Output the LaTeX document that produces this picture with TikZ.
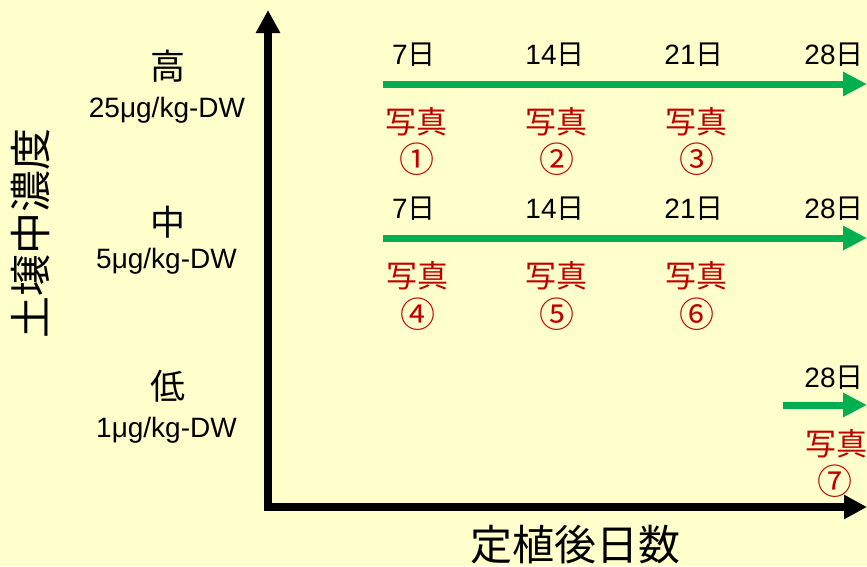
\documentclass[tikz,border=0pt]{standalone}
\usepackage{fontspec}
\setmainfont{Liberation Sans}
\newfontfamily\jp{Noto Sans CJK JP}
\usetikzlibrary{arrows.meta}
\definecolor{bg}{HTML}{FFFFCC}
\definecolor{grn}{HTML}{00B050}
\definecolor{rd}{HTML}{C00000}
\tikzset{
  axisline/.style={line width=8pt, line join=miter, {Triangle[length=23pt,width=23pt]}-{Triangle[length=23pt,width=23pt]}},
  garrow/.style={grn, line width=7pt, -{Triangle[length=24pt,width=23pt]}},
  daylbl/.style={inner sep=0pt, font=\fontsize{28}{30}\selectfont},
  photo/.style={inner sep=0pt, text=rd, font=\jp\fontsize{31}{33}\selectfont},
  circnum/.style={inner sep=0pt, text=rd, font=\jp\fontsize{35}{37}\selectfont},
  conc/.style={inner sep=0pt, font=\jp\fontsize{35}{37}\selectfont},
  unit/.style={inner sep=0pt, anchor=base, font=\fontsize{28}{30}\selectfont},
  axlbl/.style={inner sep=0pt, font=\jp\fontsize{42}{44}\selectfont}
}
\begin{document}
\begin{tikzpicture}[x=1pt,y=-1pt]
\fill[bg] (0,0) rectangle (867,566);
\useasboundingbox (0,0) rectangle (867,566);
% axes
\coordinate (O) at (268,507);
\coordinate (Ytop) at (268,10);
\coordinate (Xend) at (867,507);
\draw[axisline] (Ytop) -- (O) -- (Xend);
\node[axlbl, rotate=90] (ylab) at (31,233) {土壌中濃度};
\node[axlbl] (xlab) at (575,545) {定植後日数};
% concentration labels
\node[conc] (hi) at (167.5,66) {高};
\node[unit] (hiu) at (167,117) {25μg/kg-DW};
\node[conc] (mid) at (168,222.5) {中};
\node[unit] (midu) at (166.5,268) {5μg/kg-DW};
\node[conc] (lo) at (167.5,386) {低};
\node[unit] (lou) at (166.5,437) {1μg/kg-DW};
% top row
\coordinate (a1s) at (383,84);
\coordinate (a1e) at (867,84);
\draw[garrow] (a1s) -- (a1e);
\node[daylbl] (t7) at (414,55) {7{\jp 日}};
\node[daylbl] (t14) at (555,55) {14{\jp 日}};
\node[daylbl] (t21) at (694,55) {21{\jp 日}};
\node[daylbl] (t28) at (834,55) {28{\jp 日}};
\node[photo] (p1) at (416,121.5) {写真};
\node[circnum] (n1) at (417,159) {①};
\node[photo] (p2) at (556,121.5) {写真};
\node[circnum] (n2) at (557,159) {②};
\node[photo] (p3) at (696,121.5) {写真};
\node[circnum] (n3) at (697,159) {③};
% middle row
\coordinate (a2s) at (383,238);
\coordinate (a2e) at (867,238);
\draw[garrow] (a2s) -- (a2e);
\node[daylbl] (m7) at (414,209) {7{\jp 日}};
\node[daylbl] (m14) at (555,209) {14{\jp 日}};
\node[daylbl] (m21) at (694,209) {21{\jp 日}};
\node[daylbl] (m28) at (834,209) {28{\jp 日}};
\node[photo] (p4) at (417,276) {写真};
\node[circnum] (n4) at (418,314) {④};
\node[photo] (p5) at (556,276) {写真};
\node[circnum] (n5) at (557,314) {⑤};
\node[photo] (p6) at (696,276) {写真};
\node[circnum] (n6) at (697,314) {⑥};
% bottom row
\coordinate (a3s) at (783,405);
\coordinate (a3e) at (867,405);
\draw[garrow] (a3s) -- (a3e);
\node[daylbl] (b28) at (834,377.5) {28{\jp 日}};
\node[photo] (p7) at (836,443.5) {写真};
\node[circnum] (n7) at (835,481.5) {⑦};
\end{tikzpicture}
\end{document}
